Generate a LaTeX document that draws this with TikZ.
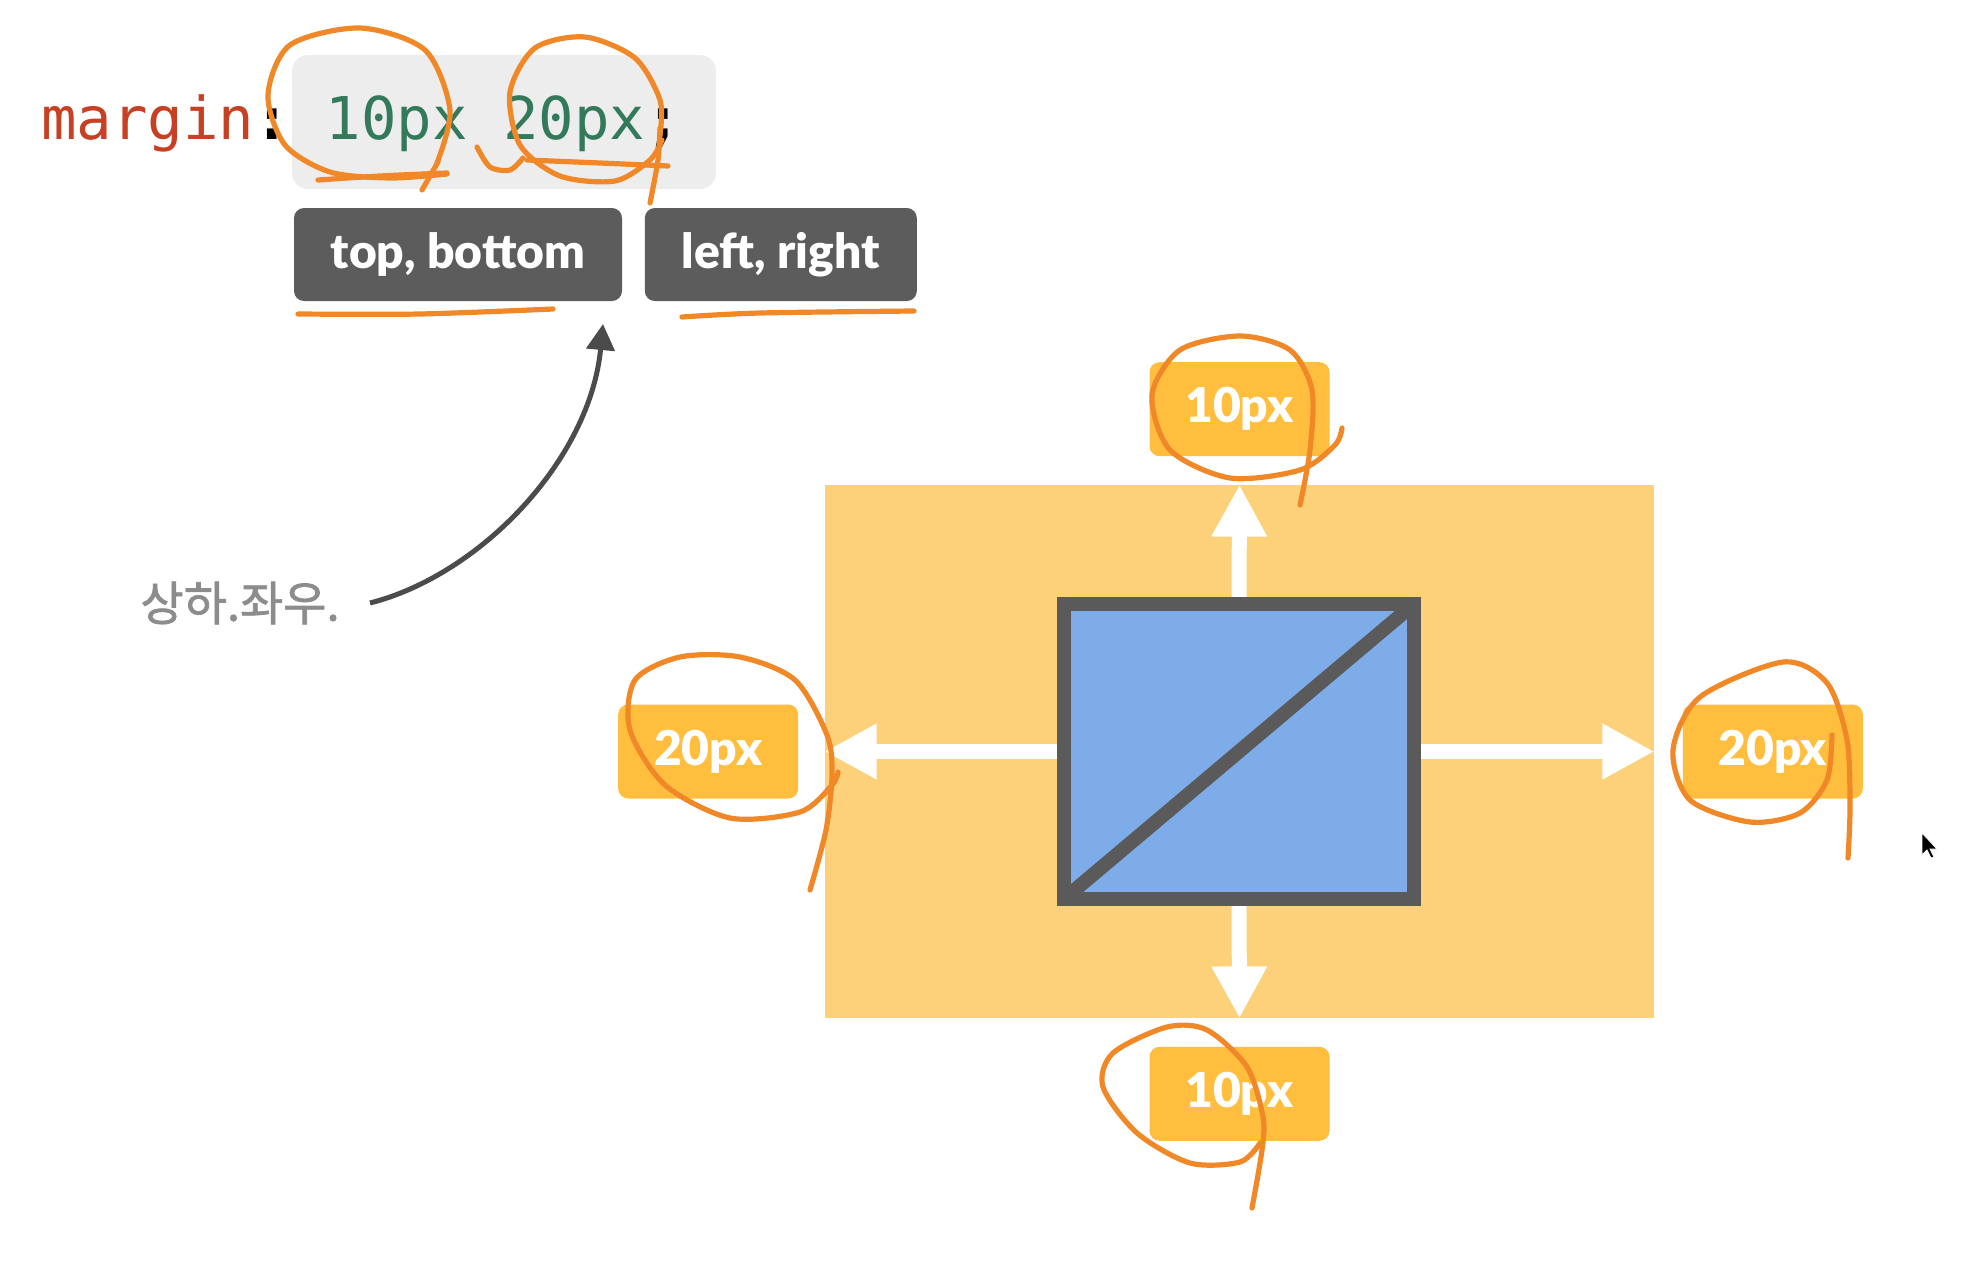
\documentclass[tikz,border=0pt]{standalone}
\usepackage{fontspec}
\setmainfont{Lato}
\setmonofont{DejaVu Sans Mono}
\newfontfamily\hangul{Noto Sans CJK KR}[FakeBold=1.5]
\newfontfamily\tagfont{Lato}[UprightFont=* Black]
\usetikzlibrary{positioning, arrows.meta}

\definecolor{cssred}{RGB}{198,64,36}
\definecolor{cssgreen}{RGB}{50,122,90}
\definecolor{codebg}{RGB}{237,237,237}
\definecolor{tagdark}{RGB}{92,92,92}
\definecolor{boxline}{RGB}{90,90,90}
\definecolor{marginfill}{RGB}{253,209,122}
\definecolor{tagorange}{RGB}{255,190,62}
\definecolor{contentblue}{RGB}{125,172,232}
\definecolor{pen}{RGB}{240,136,40}
\definecolor{notegray}{RGB}{140,140,140}
\definecolor{arrowgray}{RGB}{75,75,75}

\tikzset{
	sidetag/.style={fill=tagdark,rounded corners=5pt,text=white,inner sep=0pt,minimum height=46.5pt,font=\tagfont\fontsize{24}{28}\selectfont},
	pxtag/.style={fill=tagorange,rounded corners=5pt,text=white,inner sep=0pt,minimum width=90pt,minimum height=47pt,font=\tagfont\fontsize{24}{28}\selectfont},
	pushline/.style={draw=white,line width=7.5pt,-{Triangle[length=26pt,width=26pt]}},
	scribble/.style={draw=pen,line width=2.6pt,line cap=round,line join=round}
}

\begin{document}
\begin{tikzpicture}[x=0.5pt,y=-0.5pt]
	\useasboundingbox (0,0) rectangle (1970,1280);
	\fill[white] (0,0) rectangle (1970,1280);

	% code line
	\node (codebox) at (504,122) [fill=codebg,rounded corners=8pt,minimum width=212pt,minimum height=67pt] {};
	\node (code) at (41,139) [anchor=base west,inner sep=0pt,font=\ttfamily\fontsize{29.5}{34}\selectfont] {\textcolor{cssred}{margin}\textbf{:}~\textcolor{cssgreen}{10px~20px}\textbf{;}};
	\node (tb) at (458,254.5) [sidetag,minimum width=164pt] {top, bottom};
	\node (lr) [sidetag,minimum width=136pt,right=11pt of tb] {left, right};

	% note
	\node (note) at (340,603) [anchor=east,inner sep=0pt,text=notegray,font=\hangul\fontsize{23.5}{27}\selectfont] {상하.좌우.};
	\coordinate (tip) at (603,324);
	\draw[arrowgray,line width=2.5pt,-{Triangle[length=13pt,width=14pt]}] ([xshift=15pt]note.east) .. controls (480,575) and (590,460) .. (tip);

	% box model
	\node (outer) at (1239.5,751.5) [fill=marginfill,inner sep=0pt,minimum width=414.5pt,minimum height=266.5pt] {};
	\node (content) at (1239,751.5) [inner sep=0pt,minimum width=175pt,minimum height=147.5pt] {};
	\draw[pushline] (content.north) -- (outer.north);
	\draw[pushline] (content.south) -- (outer.south);
	\draw[pushline] (content.west) -- (outer.west);
	\draw[pushline] (content.east) -- (outer.east);
	\draw[boxline,fill=contentblue,line width=7pt] (content.south west) rectangle (content.north east);
	\draw[boxline,line width=7pt] (content.south west) -- (content.north east);

	\node (toptag) [pxtag,above=14pt of outer] {10px};
	\node (bottomtag) [pxtag,below=14pt of outer] {10px};
	\node (lefttag) [pxtag,left=13pt of outer] {20px};
	\node (righttag) [pxtag,right=14pt of outer] {20px};

	%pen marks
	\draw[scribble] plot[smooth] coordinates {(437,163) (450,110) (425,50) (360,28) (290,45) (268,95) (285,145) (330,172) (390,178) (447,174)};
	\draw[scribble] plot[smooth] coordinates {(318,180) (380,176) (447,173)};
	\draw[scribble] (438,162) -- (422,190);
	\draw[scribble] plot[smooth] coordinates {(477,147) (490,167) (510,170) (523,158)};
	\draw[scribble] plot[smooth] coordinates {(660,135) (660,100) (635,58) (585,37) (535,48) (510,92) (520,145) (560,176) (615,181) (650,160) (662,140)};
	\draw[scribble] plot[smooth] coordinates {(527,160) (600,163) (668,166)};
	\draw[scribble] plot[smooth] coordinates {(660,128) (658,160) (650,203)};
	\draw[scribble] plot[smooth] coordinates {(298,314) (420,314) (553,309)};
	\draw[scribble] plot[smooth] coordinates {(682,317) (760,313) (914,311)};

	\draw[scribble] plot[smooth] coordinates {(1300,505) (1310,450) (1312,390) (1290,350) (1240,336) (1180,350) (1152,395) (1170,450) (1230,478) (1300,470) (1335,445) (1342,428)};
	\draw[scribble] plot[smooth] coordinates {(810,890) (826,830) (832,775) (827,735) (795,680) (740,657) (680,657) (635,680) (630,730) (665,785) (730,818) (800,812) (832,785) (838,772)};
	\draw[scribble] plot[smooth] coordinates {(1832,735) (1827,780) (1800,813) (1750,822) (1690,800) (1673,750) (1700,697) (1783,662) (1827,683) (1847,740) (1850,807) (1848,858)};
	\draw[scribble] plot[smooth] coordinates {(1252,1208) (1262,1150) (1263,1117) (1247,1067) (1207,1030) (1167,1027) (1113,1053) (1103,1087) (1137,1133) (1190,1163) (1240,1162) (1260,1143)};

	% pointer
	\filldraw[fill=black,draw=white,line width=0.4pt] (1922,833) -- (1922,855) -- (1927,850) -- (1931,858) -- (1934,857) -- (1930,849) -- (1937,849) -- cycle;
\end{tikzpicture}
\end{document}
